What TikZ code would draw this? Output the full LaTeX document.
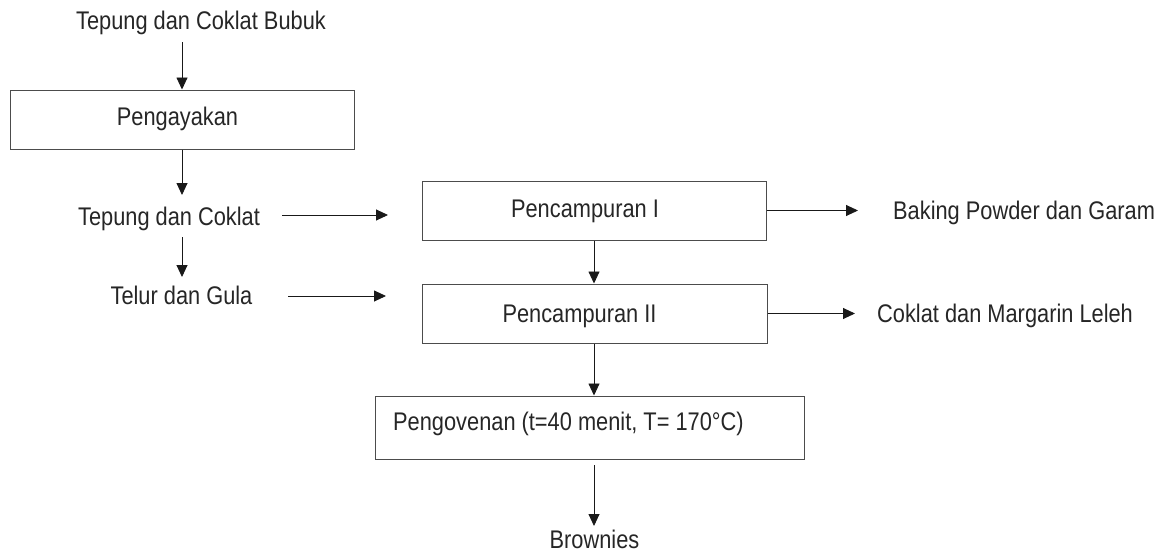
\documentclass[tikz,border=0pt]{standalone}
\usepackage{fontspec}
\setmainfont[FakeStretch=0.855]{Liberation Sans}
\usetikzlibrary{arrows.meta}
\begin{document}
\begin{tikzpicture}[x=1pt,y=-1pt,
  txt/.style={inner sep=0pt, text=black!85, font=\fontsize{25.5}{30}\selectfont},
  box/.style={draw=black!70, line width=1pt, inner sep=0pt, rectangle},
  arr/.style={draw=black!90, line width=0.9pt, -{Triangle[length=12pt,width=11pt]}}]
\useasboundingbox (0,0) rectangle (1171,554);
% boxes
\node[box, minimum width=344pt, minimum height=59pt] (b1) at (182,119.5) {};
\node[box, minimum width=344pt, minimum height=59pt] (b2) at (594,210.5) {};
\node[box, minimum width=345pt, minimum height=59pt] (b3) at (594.5,313.5) {};
\node[box, minimum width=429pt, minimum height=63pt] (b4) at (589.5,427.5) {};
% box texts
\node[txt, anchor=base] (l1) at (177.5,125) {Pengayakan};
\node[txt, anchor=base] (l2) at (585,217) {Pencampuran I};
\node[txt, anchor=base] (l3) at (579.5,322) {Pencampuran II};
\node[txt, anchor=base west] (l4) at (393,430) {Pengovenan (t=40 menit, T= 170°C)};
% free texts
\node[txt, anchor=base] (t1) at (201,29) {Tepung dan Coklat Bubuk};
\node[txt, anchor=base] (t2) at (169,225) {Tepung dan Coklat};
\node[txt, anchor=base] (t3) at (181.5,304) {Telur dan Gula};
\node[txt, anchor=base west] (t4) at (893,219) {Baking Powder dan Garam};
\node[txt, anchor=base west] (t5) at (877,322) {Coklat dan Margarin Leleh};
\node[txt, anchor=base] (t6) at (594.5,548) {Brownies};
% coordinates
\coordinate (c1) at (182,42);
\coordinate (c2) at (182,195);
\coordinate (c3s) at (182,237);
\coordinate (c3e) at (182,277);
\coordinate (h1s) at (282,215);
\coordinate (h1e) at (388,215);
\coordinate (h2s) at (288,296);
\coordinate (h2e) at (386,296);
\coordinate (r1) at (858,210.5);
\coordinate (r2) at (855,313.5);
\coordinate (v4s) at (594,465);
\coordinate (v4e) at (594,526);
% connectors
\draw[arr] (c1) -- (c1 |- b1.north);
\draw[arr] (b1.south -| c2) -- (c2);
\draw[arr] (c3s) -- (c3e);
\draw[arr] (h1s) -- (h1e);
\draw[arr] (h2s) -- (h2e);
\draw[arr] (b2.south) -- (b2.south |- b3.north);
\draw[arr] (b3.south -| b2.south) -- (b2.south |- b4.north);
\draw[arr] (b2.east) -- (r1);
\draw[arr] (b3.east) -- (r2);
\draw[arr] (v4s) -- (v4e);
\end{tikzpicture}
\end{document}
